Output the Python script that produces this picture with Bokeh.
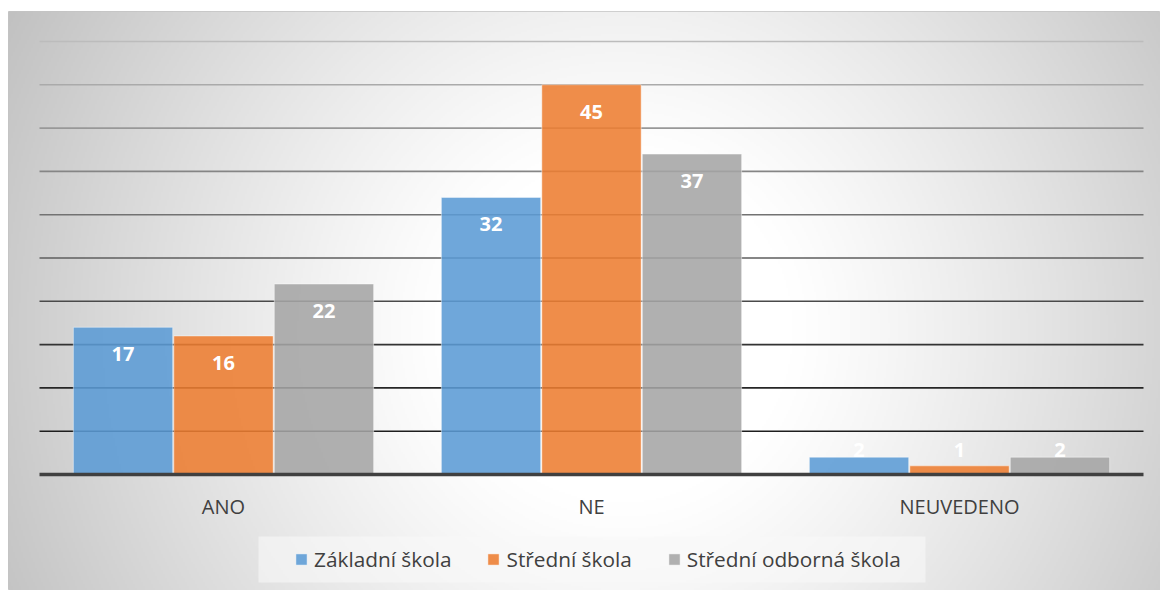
import numpy as np
from bokeh.plotting import figure
from bokeh.models import ColumnDataSource, Range1d, Legend, LegendItem, BoxAnnotation
from bokeh.core.properties import value
from bokeh.embed import file_html
from bokeh.resources import INLINE

# ---- data ----
categories = ["ANO", "NE", "NEUVEDENO"]
series_names = ["Základní škola", "Střední škola", "Střední odborná škola"]
zakladni = [17, 32, 2]
stredni = [16, 45, 1]
stredni_odborna = [22, 37, 2]
grid_ticks = [5, 10, 15, 20, 25, 30, 35, 40, 45, 50]

series_values = [zakladni, stredni, stredni_odborna]
colors = ["#5B9BD5", "#ED7D31", "#A5A5A5"]
offsets = [-0.273, 0.0, 0.273]
grid_colors = ["#1e1e1e", "#262626", "#333333", "#4a4a4a", "#5e5e5e",
               "#727272", "#858585", "#989898", "#aaaaaa", "#bcbcbc"]

W, H = 1160, 590
BL, BT = 8, 11
FONT = "Open Sans"

p = figure(width=W, height=H, output_backend="svg", toolbar_location=None,
           x_axis_type=None, y_axis_type=None,
           x_range=Range1d(-0.58424, 2.54620), y_range=Range1d(-13.395, 53.464),
           min_border_left=BL, min_border_right=0, min_border_bottom=0, min_border_top=BT)
p.border_fill_color = "white"
p.outline_line_color = "#c4c4c4"
p.outline_line_width = 1

# ---- radial grey gradient background ----
FW, FH = W - BL, H - BT
iw, ih = FW // 2, FH // 2
jj = (np.arange(iw) + 0.5) * (FW / iw) + BL
ii = (np.arange(ih) + 0.5) * (FH / ih) + BT
X, Y = np.meshgrid(jj, ii)
r = np.sqrt((X - 620) ** 2 + (Y - 330) ** 2) / 690.0
t = np.clip((r - 0.25) / 0.75, 0, 1) ** 1.15
v = (255 - 62 * t).astype(np.uint8)
img = np.empty((ih, iw, 4), dtype=np.uint8)
img[..., 0] = v
img[..., 1] = v
img[..., 2] = v
img[..., 3] = 255
img = np.flipud(img).copy()
img32 = img.view(dtype=np.uint32).reshape((ih, iw))
xr0, xr1 = p.x_range.start, p.x_range.end
yr0, yr1 = p.y_range.start, p.y_range.end
p.image_rgba(image=[img32], x=xr0, y=yr0, dw=xr1 - xr0, dh=yr1 - yr0)

# ---- gridlines ----
n = len(categories)
p.segment(x0=[-0.5] * len(grid_ticks), x1=[n - 0.5] * len(grid_ticks),
          y0=grid_ticks, y1=grid_ticks, line_color=grid_colors, line_width=1.6)

# ---- legend background ----
p.add_layout(BoxAnnotation(left=0.0951, right=1.9076, bottom=-12.47, top=-7.16,
                           fill_color="#f9f9f9", fill_alpha=0.6, line_color=None))

# ---- bars ----
renderers = []
for name, vals, col, off in zip(series_names, series_values, colors, offsets):
    src = ColumnDataSource(dict(x=[i + off for i in range(n)], top=vals))
    rr = p.vbar(x="x", top="top", bottom=0, width=0.27, source=src,
                fill_color=col, fill_alpha=0.88, line_color="white", line_alpha=0.45,
                line_width=1)
    renderers.append(rr)

# baseline
p.segment(x0=[-0.5], x1=[n - 0.5], y0=[0], y1=[0], line_color="#404040", line_width=3.3)

# ---- data labels ----
for vals, off in zip(series_values, offsets):
    big_x = [i + off for i, vv in enumerate(vals) if vv >= 5]
    big_y = [vv for vv in vals if vv >= 5]
    big_t = [str(vv) for vv in vals if vv >= 5]
    small_x = [i + off for i, vv in enumerate(vals) if vv < 5]
    small_t = [str(vv) for vv in vals if vv < 5]
    p.text(x=big_x, y=big_y, text=big_t, y_offset=27, text_align="center",
           text_baseline="middle", text_color="white", text_font=value(FONT),
           text_font_style="bold", text_font_size="20px")
    p.text(x=small_x, y=[0] * len(small_x), text=small_t, y_offset=-24.5,
           text_align="center", text_baseline="middle", text_color="white",
           text_font=value(FONT), text_font_style="bold", text_font_size="20px")

# ---- category labels ----
p.text(x=list(range(n)), y=[0] * n, text=categories, y_offset=32,
       text_align="center", text_baseline="middle", text_color="#404040",
       text_font=value(FONT), text_font_size="20px")

# ---- legend ----
legend = Legend(items=[LegendItem(label=nm, renderers=[rr]) for nm, rr in zip(series_names, renderers)],
                orientation="horizontal", location=(286, 17),
                glyph_width=14, glyph_height=14, label_standoff=6, spacing=35,
                label_text_font=FONT, label_text_font_size="20.8px",
                label_text_color="#404040", padding=0, margin=0,
                background_fill_alpha=0, border_line_color=None, label_height=28)
p.add_layout(legend, "center")

open("out.html", "w").write(file_html(p, INLINE))
